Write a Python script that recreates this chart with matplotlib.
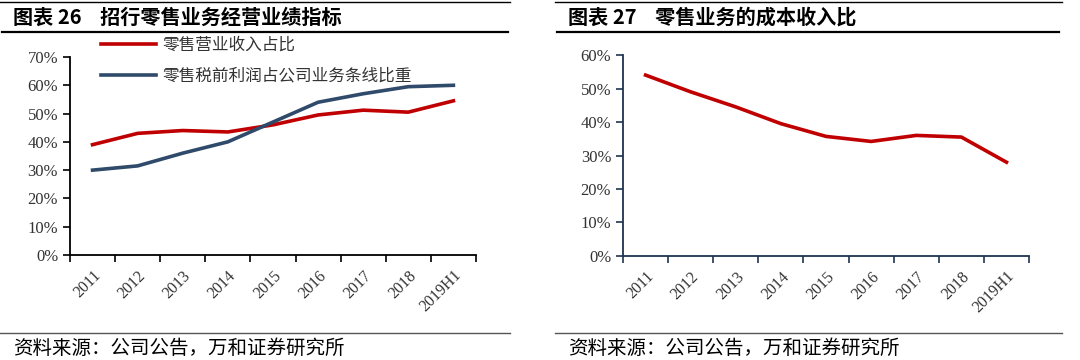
import numpy as np
import matplotlib
matplotlib.use("Agg")
import matplotlib.pyplot as plt
from matplotlib.lines import Line2D
from matplotlib.ticker import PercentFormatter

plt.rcParams['font.family'] = ['Liberation Serif', 'Noto Sans CJK SC']

# data
years = ['2011', '2012', '2013', '2014', '2015', '2016', '2017', '2018', '2019H1']
retail_rev_share = [39.0, 43.0, 44.0, 43.5, 46.0, 49.5, 51.2, 50.5, 54.5]
retail_profit_share = [30.0, 31.5, 36.0, 40.0, 47.0, 54.0, 57.0, 59.5, 60.0]
cost_income_ratio = [54.0, 49.0, 44.5, 39.5, 35.7, 34.2, 36.0, 35.5, 28.0]

RED = '#C00000'
BLUE = '#2F4A6A'
CJK = ['Noto Sans CJK SC', 'DejaVu Sans']

fig = plt.figure(figsize=(10.8, 3.6), dpi=100)

#axes, in figure fractions
ax1 = fig.add_axes([0.0648, 0.2917, 0.3759, 0.55])
ax2 = fig.add_axes([0.5769, 0.2889, 0.3759, 0.5583])

x = np.arange(len(years))

ax1.plot(x, retail_rev_share, color=RED, lw=2.6, label='零售营业收入占比')
ax1.plot(x, retail_profit_share, color=BLUE, lw=2.6, label='零售税前利润占公司业务条线比重')
ax1.set_ylim(0, 70)
ax1.set_yticks(np.arange(0, 71, 10))

ax2.plot(x, cost_income_ratio, color=RED, lw=2.6)
ax2.set_ylim(0, 60)
ax2.set_yticks(np.arange(0, 61, 10))

for ax, sc in [(ax1, 'black'), (ax2, '#1F3350')]:
    ax.set_xlim(-0.5, len(years) - 0.5)
    ax.set_xticks(np.arange(-0.5, len(years), 1.0))
    ax.set_xticklabels([])
    ax.set_xticks(x, minor=True)
    ax.set_xticklabels(years, minor=True, rotation=45, ha='right', va='top',
                       rotation_mode='anchor', fontsize=11.5, color='#333333')
    ax.tick_params(axis='x', which='minor', length=0, pad=9)
    ax.tick_params(axis='x', which='major', length=5, width=1.2, color=sc, direction='out')
    ax.tick_params(axis='y', length=5, width=1.2, color=sc, labelsize=12, labelcolor='#333333')
    ax.yaxis.set_major_formatter(PercentFormatter(decimals=0))
    for s in ['top', 'right']:
        ax.spines[s].set_visible(False)
    for s in ['left', 'bottom']:
        ax.spines[s].set_color(sc)
        ax.spines[s].set_linewidth(1.3)
    ax.set_facecolor('none')

leg = ax1.legend(loc='upper left', bbox_to_anchor=(0.086, 0.92), bbox_transform=fig.transFigure,
                 frameon=False, prop={'family': CJK, 'size': 12}, handlelength=3.3,
                 labelspacing=0.8, handletextpad=0.4, borderpad=0)
for t in leg.get_texts():
    t.set_color('#333333')

# titles, rules and source lines
fig.text(0.012, 0.952, '图表 26    招行零售业务经营业绩指标', family=CJK, fontsize=14.5,
         fontweight='bold', va='center')
fig.text(0.526, 0.952, '图表 27    零售业务的成本收入比', family=CJK, fontsize=14.5,
         fontweight='bold', va='center')
fig.text(0.012, 0.033, '资料来源：公司公告，万和证券研究所', family=CJK, fontsize=14, va='center')
fig.text(0.526, 0.033, '资料来源：公司公告，万和证券研究所', family=CJK, fontsize=14, va='center')

for x0, x1 in [(0.0, 0.472), (0.514, 0.983)]:
    fig.add_artist(Line2D([x0, x1], [0.994, 0.994], color='black', lw=1.0))
    fig.add_artist(Line2D([x0 + 0.002, x1 - 0.002], [0.912, 0.912], color='black', lw=1.6))
    fig.add_artist(Line2D([x0, x1], [0.075, 0.075], color='#555555', lw=1.0))

fig.savefig('out.png', dpi=100)
